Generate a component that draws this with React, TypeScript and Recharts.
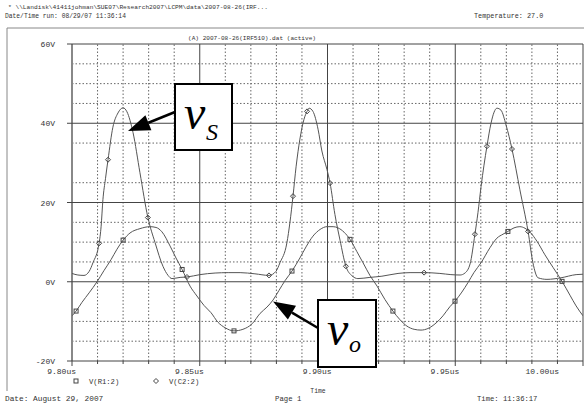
import React from 'react';
import { ComposedChart, Line, Scatter, XAxis, YAxis, ReferenceLine } from 'recharts';

// axes
const timeTicks = [9.8, 9.85, 9.9, 9.95, 10.0];
const timeTickLabels = ['9.80us', '9.85us', '9.90us', '9.95us', '10.00us'];
const minorTimes = [9.81, 9.82, 9.83, 9.84, 9.86, 9.87, 9.88, 9.89, 9.91, 9.92, 9.93, 9.94, 9.96, 9.97, 9.98, 9.99];
const voltTicks = [-20, 0, 20, 40, 60];
const voltTickLabels = ['-20V', '0V', '20V', '40V', '60V'];
const minorVolts = [-15, -10, 5, 10, 15, 25, 35, 45, 50, 55];

// V(C2:2) -> v_S
const vsTime = [9.8, 9.8023, 9.8047, 9.8067, 9.8082, 9.8106, 9.8114, 9.8121, 9.8131, 9.8141, 9.816, 9.818, 9.82, 9.8215, 9.8239, 9.8266, 9.8297, 9.8325, 9.8356, 9.8376, 9.8391, 9.8423, 9.845, 9.8501, 9.856, 9.8611, 9.8658, 9.8716, 9.8771, 9.8798, 9.8814, 9.8841, 9.8853, 9.8865, 9.8877, 9.8892, 9.8908, 9.892, 9.8928, 9.8943, 9.8963, 9.8978, 9.8998, 9.901, 9.9029, 9.9049, 9.9072, 9.9096, 9.9119, 9.9166, 9.9213, 9.9276, 9.9323, 9.9378, 9.944, 9.9483, 9.9519, 9.9538, 9.9558, 9.9577, 9.9589, 9.9601, 9.9624, 9.964, 9.9652, 9.9663, 9.9679, 9.9699, 9.9722, 9.9753, 9.9785, 9.9804, 9.9824, 9.9859, 9.9914, 9.9973, 10.0];
const vsVolts = [2.1, 1.7, 1.6, 2.6, 4.8, 9.7, 14.0, 20.7, 26.0, 30.8, 39.0, 42.6, 43.9, 42.9, 37.6, 27.5, 16.2, 9.9, 3.9, 1.6, 0.8, 1.1, 1.2, 1.8, 2.2, 2.3, 2.3, 2.0, 1.6, 2.6, 4.8, 9.8, 15.0, 21.6, 29.0, 36.0, 41.0, 43.0, 43.8, 43.0, 38.5, 33.0, 28.3, 24.9, 17.0, 10.5, 3.9, 1.5, 0.8, 1.1, 1.4, 2.1, 2.3, 2.3, 2.1, 1.8, 1.7, 2.2, 4.5, 12.0, 17.5, 24.0, 34.2, 40.0, 42.8, 43.8, 43.3, 39.5, 33.5, 23.2, 12.7, 4.8, 1.0, 0.6, 1.0, 1.8, 1.9];
const vsMarkTime = [9.8106, 9.8141, 9.8297, 9.845, 9.8771, 9.8865, 9.892, 9.901, 9.9072, 9.9378, 9.9577, 9.9624, 9.9722, 9.9785];
const vsMarkVolts = [9.7, 30.8, 16.2, 1.2, 1.6, 21.6, 43.0, 24.9, 3.9, 2.3, 12.0, 34.2, 33.5, 12.7];

// V(R1:2) -> v_o
const voTime = [9.8, 9.8016, 9.8039, 9.8067, 9.8098, 9.8125, 9.8153, 9.8176, 9.82, 9.8227, 9.8266, 9.8305, 9.8329, 9.8352, 9.8384, 9.8407, 9.8431, 9.8462, 9.8489, 9.8517, 9.8544, 9.8571, 9.8599, 9.8634, 9.8669, 9.8705, 9.8736, 9.8763, 9.8787, 9.881, 9.8834, 9.8861, 9.8892, 9.8916, 9.8943, 9.8971, 9.8998, 9.9022, 9.9041, 9.9065, 9.9088, 9.9115, 9.9139, 9.9166, 9.9194, 9.9225, 9.9256, 9.9284, 9.9311, 9.9339, 9.9366, 9.9393, 9.9425, 9.9452, 9.9479, 9.9499, 9.9526, 9.955, 9.9573, 9.9601, 9.9636, 9.9663, 9.9687, 9.9706, 9.973, 9.9753, 9.9773, 9.9793, 9.982, 9.9851, 9.9883, 9.9918, 9.9949, 9.9973, 10.0];
const voVolts = [-8.6, -7.4, -5.2, -2.8, 0.0, 2.8, 5.6, 8.2, 10.5, 12.3, 13.4, 13.9, 13.7, 12.6, 9.0, 6.0, 3.1, -1.1, -3.6, -6.0, -7.8, -10.2, -11.6, -12.4, -12.0, -10.6, -8.0, -6.4, -4.6, -2.2, 0.3, 2.7, 6.0, 8.8, 11.5, 13.2, 13.9, 13.9, 13.6, 12.5, 10.7, 7.6, 4.8, 1.6, -1.1, -4.5, -7.4, -9.6, -11.2, -12.0, -12.2, -11.8, -10.4, -8.6, -6.3, -4.9, -2.6, -0.2, 2.3, 4.8, 8.6, 11.0, 12.0, 12.7, 13.6, 13.9, 13.5, 12.5, 10.2, 6.8, 3.6, 0.1, -3.4, -6.1, -8.6];
const voMarkTime = [9.8016, 9.82, 9.8431, 9.8634, 9.8861, 9.9088, 9.9256, 9.9499, 9.9706, 9.9918];
const voMarkVolts = [-7.4, 10.5, 3.1, -12.4, 2.7, 10.7, -7.4, -4.9, 12.7, 0.1];

const vsData = vsTime.map((t, i) => ({ t, v: vsVolts[i] }));
const voData = voTime.map((t, i) => ({ t, v: voVolts[i] }));
const vsMarks = vsMarkTime.map((t, i) => ({ t, v: vsMarkVolts[i] }));
const voMarks = voMarkTime.map((t, i) => ({ t, v: voMarkVolts[i] }));

const MONO = '"Liberation Mono", monospace';
const INK = '#333';
const TRACE = '#555';

function TimeTick(props: any) {
  const { x, y, payload } = props;
  const idx = timeTicks.indexOf(payload.value);
  const major = idx >= 0;
  const last = idx === timeTicks.length - 1;
  return (
    <g>
      <line x1={x} y1={y} x2={x} y2={y + (major ? 5 : 3)} stroke="#444" />
      {major && (
        <text x={last ? x - 24 : x + 4} y={y + 13} textAnchor="end" fontFamily={MONO} fontSize={8} fill={INK}>
          {timeTickLabels[idx]}
        </text>
      )}
    </g>
  );
}

function VoltTick(props: any) {
  const { x, y, payload } = props;
  const idx = voltTicks.indexOf(payload.value);
  return (
    <g>
      <line x1={x - 5} y1={y} x2={x} y2={y} stroke="#444" />
      <text x={x - 17} y={y + 3} textAnchor="end" fontFamily={MONO} fontSize={8} fill={INK}>
        {voltTickLabels[idx]}
      </text>
    </g>
  );
}

const Diamond = (p: any) => (
  <path d={`M${p.cx},${p.cy - 2.5}L${p.cx + 2.5},${p.cy}L${p.cx},${p.cy + 2.5}L${p.cx - 2.5},${p.cy}Z`} fill="none" stroke="#444" />
);
const Square = (p: any) => <rect x={p.cx - 2} y={p.cy - 2} width={4} height={4} fill="none" stroke="#444" />;

function Callout({ box, from, tip, sub, subY }: { box: number[]; from: number[]; tip: number[]; sub: string; subY: number }) {
  const [bx, by, bw, bh] = box;
  const dx = from[0] - tip[0];
  const dy = from[1] - tip[1];
  const len = Math.hypot(dx, dy);
  const ux = dx / len;
  const uy = dy / len;
  const baseX = tip[0] + ux * 22;
  const baseY = tip[1] + uy * 22;
  const head = `${tip[0]},${tip[1]} ${baseX - uy * 8},${baseY + ux * 8} ${baseX + uy * 8},${baseY - ux * 8}`;
  return (
    <g>
      <line x1={from[0]} y1={from[1]} x2={baseX} y2={baseY} stroke="#000" strokeWidth={2.5} />
      <polygon points={head} fill="#000" />
      <rect x={bx} y={by} width={bw} height={bh} fill="#fff" stroke="#000" strokeWidth={2} />
      <text x={bx + 9} y={by + 44.5} fontFamily='"Liberation Serif", serif' fontStyle="italic" fontSize={48} fill="#000">
        v
      </text>
      <text x={bx + 31} y={by + subY} fontFamily='"Liberation Serif", serif' fontStyle="italic" fontSize={24} fill="#000">
        {sub}
      </text>
    </g>
  );
}

export default function App() {
  return (
    <div style={{ position: 'absolute', left: 0, top: 0, width: 584, height: 405, background: '#fff' }}>
      <ComposedChart width={584} height={405} margin={{ top: 44, right: 1, bottom: 0, left: 0 }}>
        <XAxis
          type="number"
          dataKey="t"
          domain={[9.8, 10.0]}
          ticks={[...timeTicks, ...minorTimes].sort((a, b) => a - b)}
          interval={0}
          allowDataOverflow
          height={44}
          tickSize={0}
          tickMargin={0}
          axisLine={false}
          tickLine={false}
          tick={<TimeTick />}
        />
        <YAxis
          type="number"
          domain={[-20, 60]}
          ticks={voltTicks}
          interval={0}
          allowDataOverflow
          width={72}
          tickSize={0}
          tickMargin={0}
          axisLine={false}
          tickLine={false}
          tick={<VoltTick />}
        />
        {minorTimes.map((t) => (
          <ReferenceLine key={`mt${t}`} x={t} stroke="#666" strokeDasharray="1.5 2" />
        ))}
        {minorVolts.map((v) => (
          <ReferenceLine key={`mv${v}`} y={v} stroke="#666" strokeDasharray="1.5 2" />
        ))}
        {timeTicks.map((t) => (
          <ReferenceLine key={`t${t}`} x={t} stroke={t === 9.8 ? '#888' : '#444'} strokeWidth={t === 9.8 ? 2 : 1} />
        ))}
        {voltTicks.map((v) => (
          <ReferenceLine key={`v${v}`} y={v} stroke="#444" />
        ))}
        <Line data={voData} dataKey="v" type="monotone" stroke={TRACE} strokeWidth={1} dot={false} isAnimationActive={false} />
        <Line data={vsData} dataKey="v" type="monotone" stroke={TRACE} strokeWidth={1} dot={false} isAnimationActive={false} />
        <Scatter data={voMarks} dataKey="v" shape={Square} isAnimationActive={false} />
        <Scatter data={vsMarks} dataKey="v" shape={Diamond} isAnimationActive={false} />
      </ComposedChart>
      <svg width={584} height={405} style={{ position: 'absolute', left: 0, top: 0, pointerEvents: 'none' }}>
        <g fontFamily={MONO} fill={INK}>
          <text x={8} y={9} fontSize={6.2}>{'* \\\\Landisk\\41411johman\\SUE07\\Research2007\\LCPM\\data\\2007-08-26(IRF...'}</text>
          <text x={5} y={18} fontSize={6.3}>Date/Time run: 08/29/07 11:36:14</text>
          <text x={474} y={18} fontSize={6.8}>Temperature: 27.0</text>
          <text x={252} y={39.5} fontSize={6.1} textAnchor="middle">(A) 2007-08-26(IRF510).dat (active)</text>
          <text x={318} y={393} fontSize={6.4} textAnchor="middle">Time</text>
          <text x={5} y={401} fontSize={7.8}>Date: August 29, 2007</text>
          <text x={275} y={401} fontSize={7.3}>Page 1</text>
          <text x={477} y={401} fontSize={7.2}>Time: 11:36:17</text>
        </g>
        <line x1={7} y1={28} x2={584} y2={28} stroke="#888" />
        <line x1={7} y1={28} x2={7} y2={391} stroke="#888" />
        <rect x={74} y={379} width={4} height={4} fill="none" stroke="#444" />
        <text x={89} y={383.5} fontFamily={MONO} fontSize={7.2} fill={INK}>V(R1:2)</text>
        <path d="M156,378.5L158.5,381L156,383.5L153.5,381Z" fill="none" stroke="#444" />
        <text x={169} y={383.5} fontFamily={MONO} fontSize={7.2} fill={INK}>V(C2:2)</text>
        <Callout box={[175, 84, 57, 66]} from={[175, 112]} tip={[128, 131]} sub="S" subY={56} />
        <Callout box={[318, 300, 58, 67]} from={[318, 328]} tip={[273, 301.5]} sub="o" subY={52} />
      </svg>
    </div>
  );
}
